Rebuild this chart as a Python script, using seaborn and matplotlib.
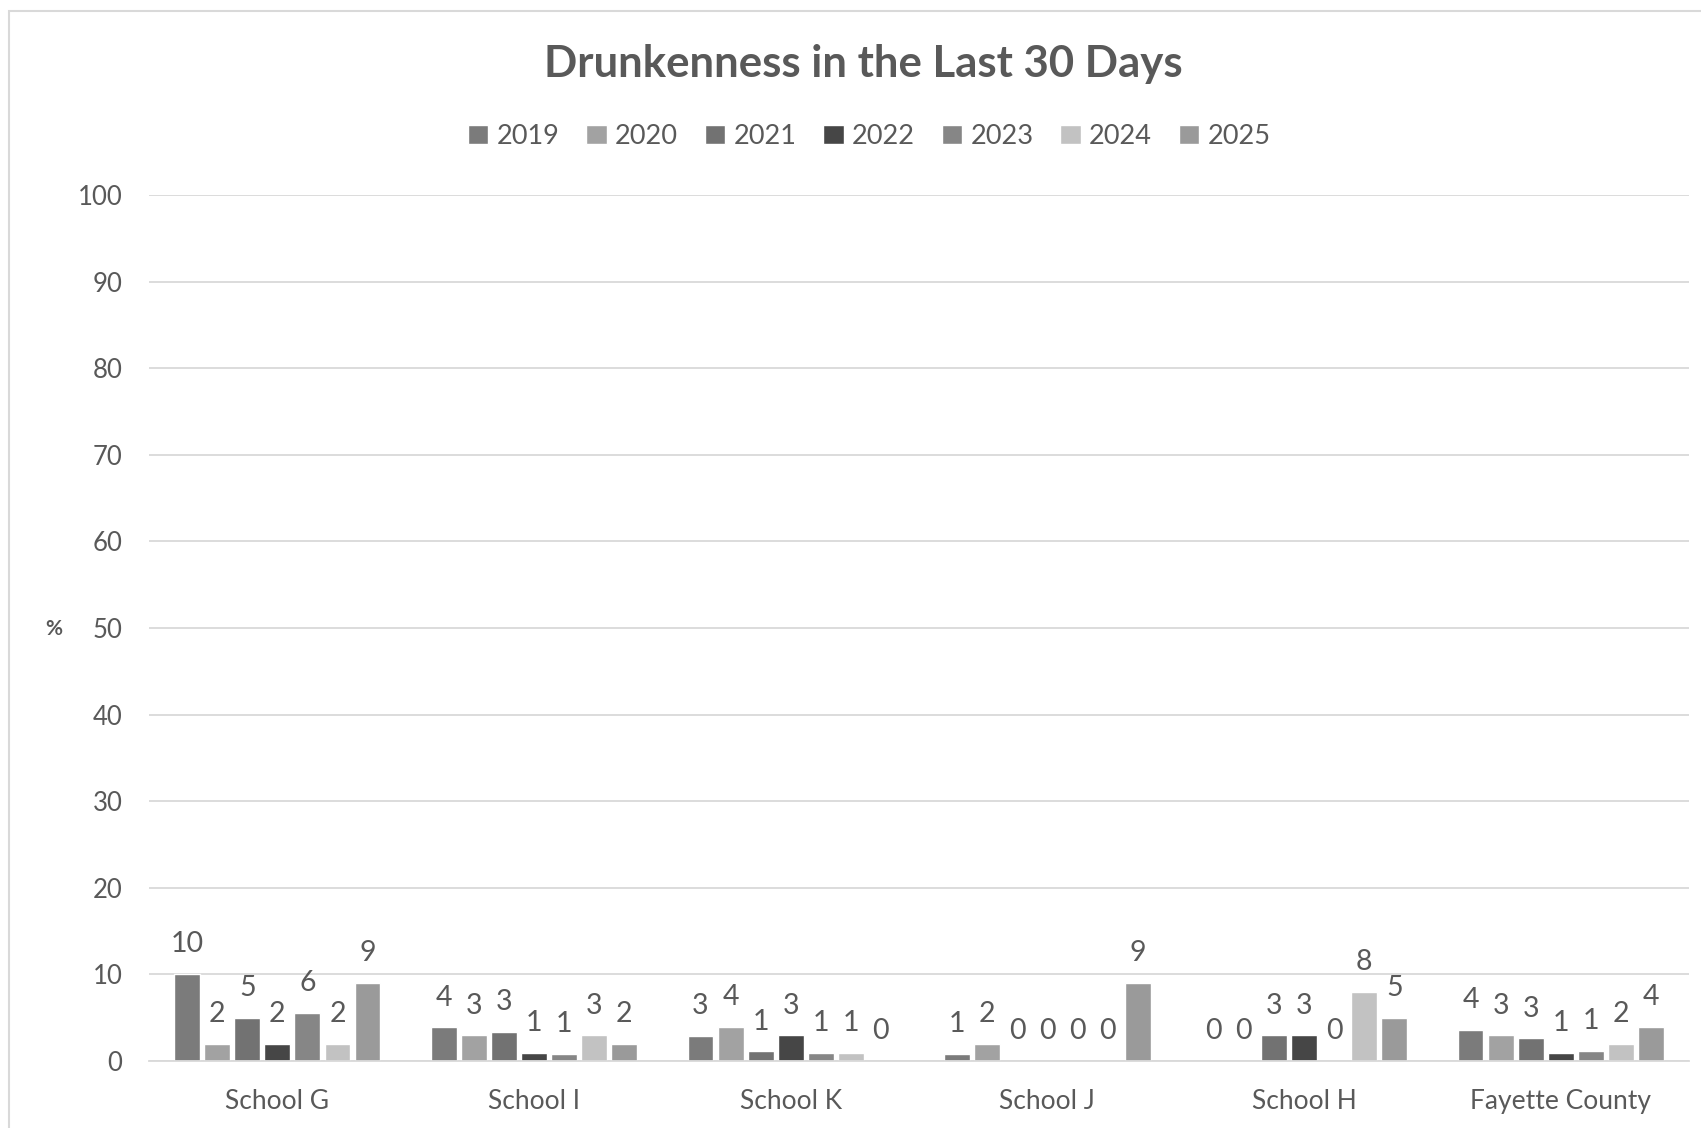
import matplotlib
matplotlib.use("Agg")
import matplotlib.pyplot as plt
from matplotlib.patches import Rectangle
import seaborn as sns
import pandas as pd

# chart data
schools = ["School G", "School I", "School K", "School J", "School H", "Fayette County"]
years = ["2019", "2020", "2021", "2022", "2023", "2024", "2025"]
v2019 = [10.1, 3.9, 2.9, 0.8, 0.0, 3.6]
v2020 = [1.95, 2.95, 3.95, 1.95, 0.0, 2.95]
v2021 = [4.95, 3.4, 1.1, 0.0, 2.95, 2.6]
v2022 = [1.95, 0.95, 2.95, 0.0, 2.95, 0.95]
v2023 = [5.6, 0.85, 0.95, 0.0, 0.0, 1.2]
v2024 = [1.95, 2.95, 0.95, 0.0, 8.0, 1.95]
v2025 = [9.0, 1.95, 0.0, 9.0, 5.0, 3.95]
yticks = [0, 10, 20, 30, 40, 50, 60, 70, 80, 90, 100]

colors = ["#7b7b7b", "#a2a2a2", "#727272", "#464646", "#868686", "#c2c2c2", "#9a9a9a"]

series = [v2019, v2020, v2021, v2022, v2023, v2024, v2025]
rows = []
for yr, vals in zip(years, series):
    for s, v in zip(schools, vals):
        rows.append({"school": s, "year": yr, "pct": v})
df = pd.DataFrame(rows)

sns.set_style("white")
plt.rcParams['font.family'] = ['Lato', 'DejaVu Sans']
txt = "#595959"

fig = plt.figure(figsize=(17.01, 11.28), dpi=100)
ax = fig.add_axes([0.0876, 0.0594, 0.9054, 0.7677])

sns.barplot(data=df, x="school", y="pct", hue="year", hue_order=years,
            order=schools, palette=dict(zip(years, colors)), errorbar=None,
            width=0.82, gap=0.14, saturation=1, ax=ax)

for c in ax.containers:
    ax.bar_label(c, fmt="%.0f", padding=12, fontsize=20.5, color=txt)

ax.set_ylim(0, 100)
ax.set_yticks(yticks)
ax.yaxis.grid(True, color="#d9d9d9", linewidth=1.3)
ax.set_axisbelow(True)
for sp in ["top", "right", "left"]:
    ax.spines[sp].set_visible(False)
ax.spines["bottom"].set_color("#d9d9d9")
ax.spines["bottom"].set_linewidth(1.3)
ax.tick_params(axis="y", length=0, pad=19, labelsize=18.5, labelcolor=txt)
ax.tick_params(axis="x", length=0, pad=20, labelsize=19, labelcolor=txt)
ax.set_xlabel("")
ax.set_ylabel("")

handles, labels = ax.get_legend_handles_labels()
ax.get_legend().remove()
fig.legend(handles, labels, loc="center", bbox_to_anchor=(0.511, 0.879), ncol=7,
           frameon=False, fontsize=19.5, labelcolor=txt, handlelength=0.75,
           handleheight=0.75, handletextpad=0.3, columnspacing=1.0)

fig.text(0.5077, 1 - 64 / 1128, "Drunkenness in the Last 30 Days", ha="center",
         va="center", fontsize=31.5, fontweight="bold", color=txt)
fig.text(0.0317, 1 - 629 / 1128, "%", ha="center", va="center", fontsize=15,
         fontweight="bold", color=txt)

# outer chart border
fig.patches.append(Rectangle((9 / 1701, -0.05), 1.1, 1.05 - 11 / 1128,
                             transform=fig.transFigure, fill=False,
                             edgecolor="#d9d9d9", linewidth=1.5))

plt.savefig("out.png", dpi=100)
plt.close()
